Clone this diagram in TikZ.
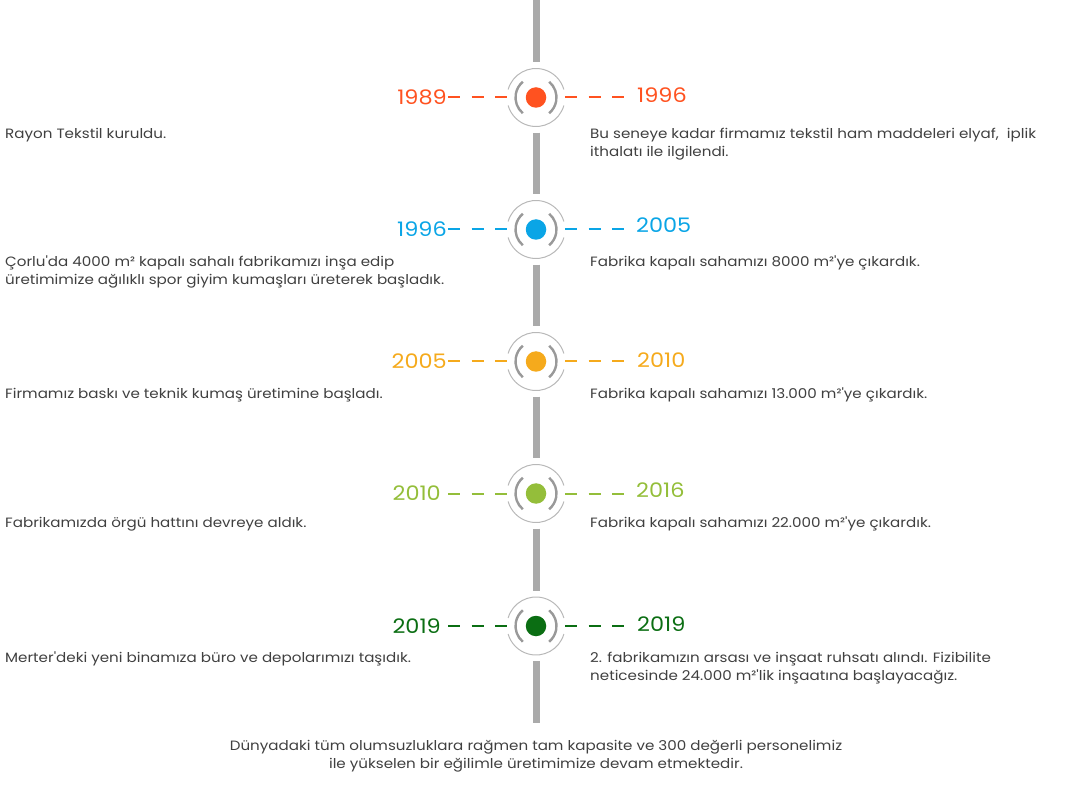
\documentclass[tikz,border=0pt]{standalone}
\usepackage{fontspec}
\setmainfont{Poppins}[FakeStretch=1.12, Ligatures=TeXOff]
\definecolor{cOrange}{HTML}{FF5220}
\definecolor{cBlue}{HTML}{0AA5E6}
\definecolor{cAmber}{HTML}{F5AA1C}
\definecolor{cLime}{HTML}{94BE3A}
\definecolor{cDark}{HTML}{0B6E13}
\definecolor{spinegray}{HTML}{AAAAAA}
\definecolor{ringlight}{HTML}{B8B8B8}
\definecolor{ringdark}{HTML}{999999}
\definecolor{bodytext}{HTML}{404040}
\begin{document}
\begin{tikzpicture}[x=1pt,y=-1pt,
  spine/.style={draw=spinegray, line width=7pt, shorten <=24.75pt, shorten >=24.75pt},
  dot/.style={circle, minimum size=20.5pt, inner sep=0pt},
  dashl/.style={line width=2pt, dash pattern=on 12pt off 11.5pt, shorten >=18.75pt},
  dashr/.style={line width=2pt, dash pattern=on 12pt off 11.5pt, shorten <=18.75pt},
  yr/.style={font=\fontsize{20}{24}\selectfont, inner sep=0pt},
  body/.style={font=\fontsize{13.5}{18}\selectfont, text=bodytext, inner sep=0pt, align=left, anchor=north west},
  outerring/.style={draw=ringlight, line width=1pt},
  innerring/.style={draw=ringdark, line width=2.4pt},
  rings/.pic={
    \draw[outerring] (16:29) arc[start angle=16,end angle=164,radius=29];
    \draw[outerring] (196:29) arc[start angle=196,end angle=344,radius=29];
    \draw[innerring] (-50:20.5) arc[start angle=-50,end angle=50,radius=20.5];
    \draw[innerring] (130:20.5) arc[start angle=130,end angle=230,radius=20.5];
  }]
\useasboundingbox (0,0) rectangle (1072,786);

% icons
\foreach \yy in {97.5,229.5,361.5,493.5,626}{
  \pic at (536,\yy) {rings};
}
\node[dot, fill=cOrange] (i1) at (536,97.5) {};
\node[dot, fill=cBlue] (i2) at (536,229.5) {};
\node[dot, fill=cAmber] (i3) at (536,361.5) {};
\node[dot, fill=cLime] (i4) at (536,493.5) {};
\node[dot, fill=cDark] (i5) at (536,626) {};

\coordinate (top) at (536,0);
\coordinate (bot) at (536,723);

% spine
\draw[spine, shorten <=0pt] (top) -- (i1);
\draw[spine] (i1) -- (i2);
\draw[spine] (i2) -- (i3);
\draw[spine] (i3) -- (i4);
\draw[spine] (i4) -- (i5);
\draw[spine, shorten >=0pt] (i5) -- (bot);

% dashes
\coordinate (l1) at (448,97.5);  \coordinate (r1) at (625,97.5);
\coordinate (l2) at (448,229.5); \coordinate (r2) at (625,229.5);
\coordinate (l3) at (448,361.5); \coordinate (r3) at (625,361.5);
\coordinate (l4) at (448,493.5); \coordinate (r4) at (625,493.5);
\coordinate (l5) at (448,626);   \coordinate (r5) at (625,626);
\draw[dashl, draw=cOrange] (l1) -- (i1);
\draw[dashr, draw=cOrange] (i1) -- (r1);
\draw[dashl, draw=cBlue] (l2) -- (i2);
\draw[dashr, draw=cBlue] (i2) -- (r2);
\draw[dashl, draw=cAmber] (l3) -- (i3);
\draw[dashr, draw=cAmber] (i3) -- (r3);
\draw[dashl, draw=cLime] (l4) -- (i4);
\draw[dashr, draw=cLime] (i4) -- (r4);
\draw[dashl, draw=cDark] (l5) -- (i5);
\draw[dashr, draw=cDark] (i5) -- (r5);

% years
\node[yr, text=cOrange, anchor=base east] (y1l) at (447,104.5) {1989};
\node[yr, text=cOrange, anchor=base west] (y1r) at (637,103) {1996};
\node[yr, text=cBlue, anchor=base east] (y2l) at (447,236.5) {1996};
\node[yr, text=cBlue, anchor=base west] (y2r) at (636,232.5) {2005};
\node[yr, text=cAmber, anchor=base east] (y3l) at (447,368.5) {2005};
\node[yr, text=cAmber, anchor=base west] (y3r) at (637,367.5) {2010};
\node[yr, text=cLime, anchor=base east] (y4l) at (441,500.5) {2010};
\node[yr, text=cLime, anchor=base west] (y4r) at (636,497.5) {2016};
\node[yr, text=cDark, anchor=base east] (y5l) at (441,633) {2019};
\node[yr, text=cDark, anchor=base west] (y5r) at (637,631.5) {2019};

% texts (first baseline = top + 12.6)
\node[body] (t1l) at (5,126) {\strut Rayon Tekstil kuruldu.};
\node[body] (t1r) at (590,126) {\strut Bu seneye kadar firmamız tekstil ham maddeleri elyaf,\ \ iplik\\ithalatı ile ilgilendi.};
\node[body] (t2l) at (5,254) {\strut Çorlu'da 4000 m² kapalı sahalı fabrikamızı inşa edip\\üretimimize ağılıklı spor giyim kumaşları üreterek başladık.};
\node[body] (t2r) at (590,254) {\strut Fabrika kapalı sahamızı 8000 m²'ye çıkardık.};
\node[body] (t3l) at (5,386) {\strut Firmamız baskı ve teknik kumaş üretimine başladı.};
\node[body] (t3r) at (590,386) {\strut Fabrika kapalı sahamızı 13.000 m²'ye çıkardık.};
\node[body] (t4l) at (5,515) {\strut Fabrikamızda örgü hattını devreye aldık.};
\node[body] (t4r) at (590,515) {\strut Fabrika kapalı sahamızı 22.000 m²'ye çıkardık.};
\node[body] (t5l) at (5,650) {\strut Merter'deki yeni binamıza büro ve depolarımızı taşıdık.};
\node[body] (t5r) at (590,650) {\strut 2. fabrikamızın arsası ve inşaat ruhsatı alındı. Fizibilite\\neticesinde 24.000 m²'lik inşaatına başlayacağız.};
\node[body, align=center, anchor=north] (t6) at (536,737.4) {\strut Dünyadaki tüm olumsuzluklara rağmen tam kapasite ve 300 değerli personelimiz\\ile yükselen bir eğilimle üretimimize devam etmektedir.};
\end{tikzpicture}
\end{document}
